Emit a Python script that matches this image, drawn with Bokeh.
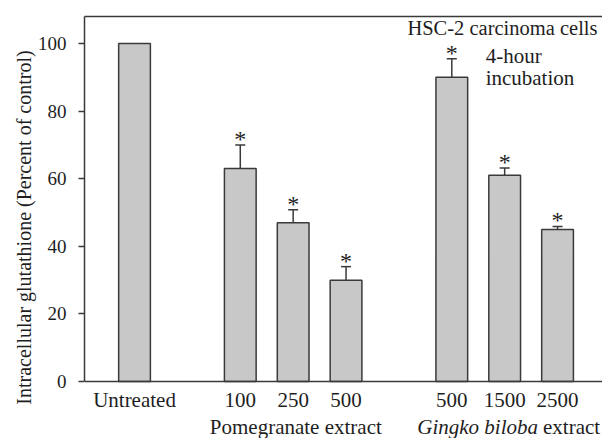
from bokeh.plotting import figure
from bokeh.models import (Range1d, FixedTicker, LinearAxis, Whisker, TeeHead,
                          Label, ColumnDataSource, Title)
from bokeh.core.properties import value
from bokeh.embed import file_html
from bokeh.resources import INLINE

# ---- data ----
groups = ["", "Pomegranate extract", "Pomegranate extract", "Pomegranate extract",
          "Gingko biloba extract", "Gingko biloba extract", "Gingko biloba extract"]
categories = ["Untreated", "100", "250", "500", "500", "1500", "2500"]
values = [100, 63, 47, 30, 90, 61, 45]
errors = [0, 7, 3.8, 4, 5.5, 2.2, 0.9]
significant = [False, True, True, True, True, True, True]
y_ticks = [0, 20, 40, 60, 80, 100]

# x positions: one empty slot between groups
positions = []
pos = 0
prev = None
for g in groups:
    if prev is not None:
        pos += 1 if g == prev else 2
    positions.append(pos)
    prev = g

FONT = "Liberation Serif"
LINE = "#3a3a3a"
TEXT = "#1e1e1e"
Y_TOP = 108

p = figure(width=602, height=438, output_backend="svg", toolbar_location=None,
           x_range=Range1d(-0.946, 8.85), y_range=Range1d(-16.85, Y_TOP),
           min_border_left=84, min_border_right=0, min_border_top=16,
           min_border_bottom=0)
p.outline_line_color = None
p.grid.visible = False

p.vbar(x=positions, top=values, bottom=0, width=0.6,
       fill_color="#c8c8c8", line_color=LINE, line_width=1.5)

sx = [x for x, s in zip(positions, significant) if s]
sv = [v for v, s in zip(values, significant) if s]
se = [e for e, s in zip(errors, significant) if s]
src = ColumnDataSource(dict(x=sx, lower=sv, upper=[v + e for v, e in zip(sv, se)]))
wh = Whisker(base="x", lower="lower", upper="upper", source=src, dimension="height",
             line_color=LINE, line_width=1.5, level="glyph",
             upper_head=TeeHead(size=10, line_color=LINE, line_width=1.5),
             lower_head=None)
p.add_layout(wh)

p.text(x="x", y="upper", text=value("*"), source=src,
       text_align="center", text_baseline="alphabetic",
       text_font=value(FONT), text_font_size="24px", text_color=TEXT, y_offset=-6)

# y axis
ya = p.yaxis[0]
ya.bounds = (0, Y_TOP)
ya.ticker = FixedTicker(ticks=y_ticks)
ya.major_label_text_font = FONT
ya.major_label_text_font_size = "19px"
ya.major_label_text_color = TEXT
ya.major_label_standoff = 12
ya.major_tick_out = 6
ya.major_tick_in = 0
ya.minor_tick_line_color = None
ya.axis_line_color = LINE
ya.axis_line_width = 1.5
ya.major_tick_line_color = LINE
ya.major_tick_line_width = 1.5

# y axis title (shifted up to centre on the 0..108 axis)
p.add_layout(Title(text="Intracellular glutathione (Percent of control)", align="center",
                   offset=28, standoff=0, text_font=FONT, text_font_size="20px",
                   text_font_style="normal", text_color=TEXT), "left")

# x axis, drawn at y = 0
xa = p.xaxis[0]
xa.fixed_location = 0
xa.ticker = FixedTicker(ticks=positions)
xa.major_label_overrides = {float(x): c for x, c in zip(positions, categories)}
xa.major_label_text_font = FONT
xa.major_label_text_font_size = "21px"
xa.major_label_text_color = TEXT
xa.major_label_standoff = 6
xa.major_tick_out = 0
xa.major_tick_in = 0
xa.major_tick_line_color = None
xa.minor_tick_line_color = None
xa.axis_line_color = LINE
xa.axis_line_width = 1.5

# top frame line
top = LinearAxis(ticker=FixedTicker(ticks=[]), major_label_text_font_size="0px",
                 major_tick_out=0, major_tick_in=0, minor_tick_out=0, minor_tick_in=0,
                 major_label_standoff=0, axis_line_color=LINE, axis_line_width=1.5)
p.add_layout(top, "above")

# group labels
pom_center = sum(x for x, g in zip(positions, groups) if g.startswith("Pome")) / 3 + 0.05
gin_split = positions[5] + 0.63
GY = -13.3
p.add_layout(Label(x=pom_center, y=GY, text="Pomegranate extract", text_font=FONT,
                   text_font_size="21px", text_align="center", text_baseline="alphabetic",
                   text_color=TEXT))
p.add_layout(Label(x=gin_split, y=GY, text="Gingko biloba", text_font=FONT,
                   text_font_size="21px", text_font_style="italic", text_align="right",
                   text_baseline="alphabetic", text_color=TEXT))
p.add_layout(Label(x=gin_split, y=GY, x_offset=5, text="extract", text_font=FONT,
                   text_font_size="21px", text_align="left", text_baseline="alphabetic",
                   text_color=TEXT))

# annotation text
p.add_layout(Label(x=5.16, y=104.6, text="HSC-2 carcinoma cells", text_font=FONT,
                   text_font_size="20.5px", text_align="left", text_baseline="alphabetic",
                   text_color=TEXT))
p.add_layout(Label(x=6.64, y=96.3, text="4-hour", text_font=FONT,
                   text_font_size="21px", text_align="left", text_baseline="alphabetic",
                   text_color=TEXT))
p.add_layout(Label(x=6.64, y=89.8, text="incubation", text_font=FONT,
                   text_font_size="21px", text_align="left", text_baseline="alphabetic",
                   text_color=TEXT))

open("out.html", "w").write(file_html(p, INLINE))
